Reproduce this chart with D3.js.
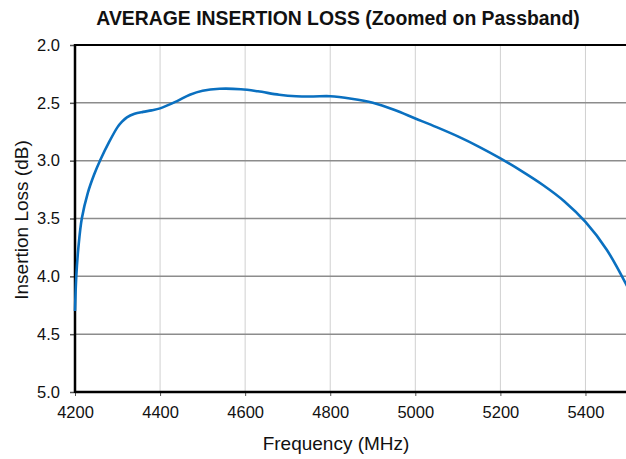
<!DOCTYPE html>
<html lang="en">
<head>
<meta charset="UTF-8">
<title>Average Insertion Loss</title>
<script src="https://cdn.jsdelivr.net/npm/d3@7"></script>
<style>
  body { margin: 0; background: #fff; }
  svg { display: block; font-family: "Liberation Sans", Arial, sans-serif; }
</style>
</head>
<body>
<svg id="chart" width="626" height="459"></svg>
<script>
// data
var freq = [4200, 4203, 4208, 4216, 4230, 4245, 4260, 4280, 4300, 4310, 4322, 4340, 4360, 4380, 4400, 4440, 4470, 4500, 4540, 4590, 4630, 4680, 4720, 4760, 4800, 4850, 4900, 4950, 5000, 5050, 5100, 5150, 5200, 5250, 5300, 5350, 5400, 5450, 5500];
var loss = [4.30, 4.00, 3.75, 3.50, 3.28, 3.12, 2.99, 2.84, 2.71, 2.665, 2.625, 2.595, 2.578, 2.565, 2.548, 2.485, 2.43, 2.395, 2.378, 2.382, 2.40, 2.43, 2.443, 2.445, 2.443, 2.465, 2.50, 2.56, 2.635, 2.71, 2.79, 2.88, 2.98, 3.09, 3.21, 3.35, 3.53, 3.77, 4.10];
var xTicks = [4200, 4400, 4600, 4800, 5000, 5200, 5400];
var yTicks = [2.0, 2.5, 3.0, 3.5, 4.0, 4.5, 5.0];

var svg = d3.select("#chart");
var pLeft = 75, pTop = 45, pRight = 628, pBottom = 392;

var x = d3.scaleLinear().domain([4200, 5500]).range([pLeft, pRight]);
var y = d3.scaleLinear().domain([2, 5]).range([pTop, pBottom]);

// vertical grid (light)
svg.append("g").selectAll("line").data(xTicks.slice(1)).enter().append("line")
  .attr("x1", d => x(d)).attr("x2", d => x(d))
  .attr("y1", pTop).attr("y2", pBottom)
  .attr("stroke", "#d0d0d0").attr("stroke-width", 1);

// horizontal grid (darker)
svg.append("g").selectAll("line").data(yTicks.slice(1, -1)).enter().append("line")
  .attr("x1", pLeft).attr("x2", 626)
  .attr("y1", d => y(d)).attr("y2", d => y(d))
  .attr("stroke", "#8c8c8c").attr("stroke-width", 1.5);

// axes
var yAxis = d3.axisLeft(y).tickValues(yTicks).tickFormat(d3.format(".1f")).tickSize(5).tickPadding(10);
var xAxis = d3.axisBottom(x).tickValues(xTicks).tickFormat(d3.format("d")).tickSize(4).tickPadding(10);

var gy = svg.append("g").attr("transform", "translate(" + pLeft + ",0)").call(yAxis);
var gx = svg.append("g").attr("transform", "translate(0," + pBottom + ")").call(xAxis);
[gx, gy].forEach(function (g) {
  g.select(".domain").remove();
  g.selectAll("text").attr("font-size", 16.5).attr("fill", "#111").attr("font-family", "Liberation Sans, Arial, sans-serif");
});
gy.selectAll(".tick line").attr("stroke", "#555").attr("stroke-width", 1.5);
gx.selectAll(".tick line").attr("stroke", "#555").attr("stroke-width", 1);

// frame lines
svg.append("line").attr("x1", pLeft).attr("x2", 626).attr("y1", pTop).attr("y2", pTop)
  .attr("stroke", "#000").attr("stroke-width", 2);
svg.append("line").attr("x1", pLeft).attr("x2", pLeft).attr("y1", pTop - 1).attr("y2", pBottom + 1)
  .attr("stroke", "#000").attr("stroke-width", 2.5);
svg.append("line").attr("x1", pLeft).attr("x2", 626).attr("y1", pBottom).attr("y2", pBottom)
  .attr("stroke", "#000").attr("stroke-width", 2.5);

// curve
var line = d3.line().x((d, i) => x(freq[i])).y(d => y(d)).curve(d3.curveCatmullRom.alpha(0.5));
svg.append("path").datum(loss)
  .attr("d", line)
  .attr("fill", "none")
  .attr("stroke", "#0a70c0")
  .attr("stroke-width", 2.6);

// titles
svg.append("text").attr("x", 338).attr("y", 25).attr("text-anchor", "middle")
  .attr("font-size", 19.4).attr("font-weight", "bold").attr("fill", "#111")
  .text("AVERAGE INSERTION LOSS (Zoomed on Passband)");
svg.append("text").attr("x", 336).attr("y", 450).attr("text-anchor", "middle")
  .attr("font-size", 19).attr("fill", "#111")
  .text("Frequency (MHz)");
svg.append("text").attr("transform", "translate(28,220) rotate(-90)").attr("text-anchor", "middle")
  .attr("font-size", 19).attr("fill", "#111")
  .text("Insertion Loss (dB)");
</script>
</body>
</html>
